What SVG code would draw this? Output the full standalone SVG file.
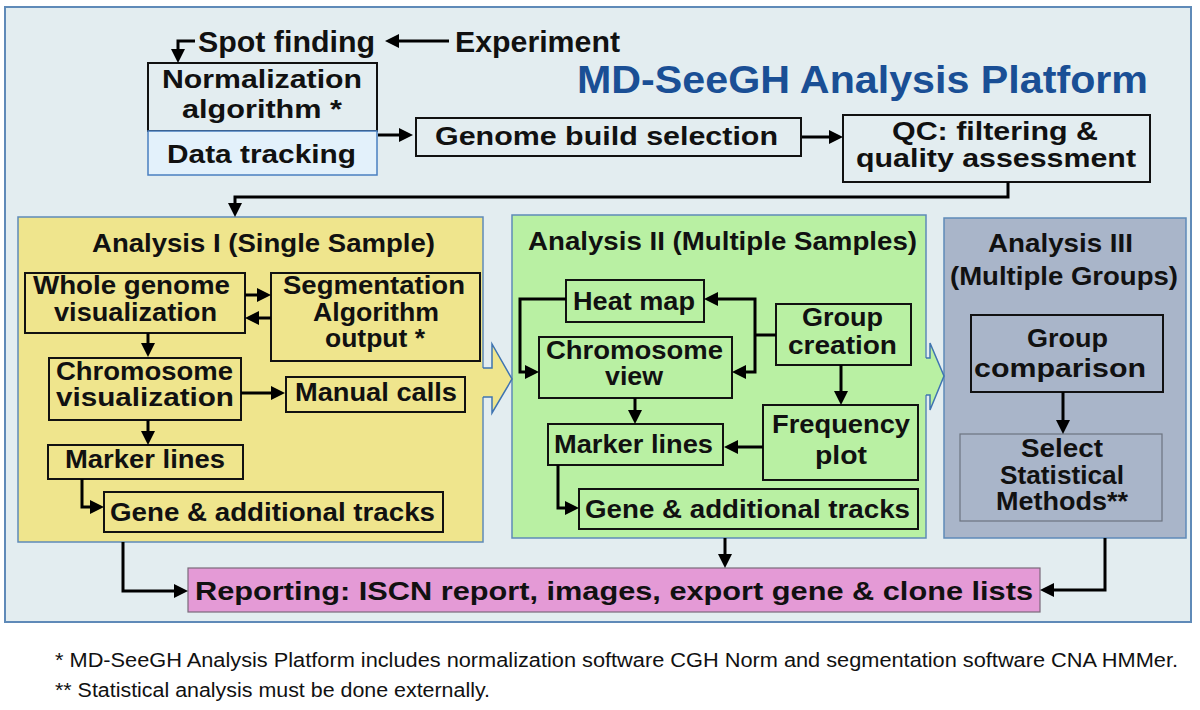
<svg xmlns="http://www.w3.org/2000/svg" width="1200" height="710" viewBox="0 0 1200 710">
<defs>
<marker id="ah" viewBox="0 0 14 14" refX="10" refY="7" markerWidth="14" markerHeight="14" markerUnits="userSpaceOnUse" orient="auto">
<path d="M0,0 L14,7 L0,14 z" fill="#000"/>
</marker>
<style>
text{font-family:"Liberation Sans",Arial,sans-serif;font-weight:bold;fill:#111;text-anchor:middle}
.t{font-size:25px}
.tt{font-size:26px}
.t30{font-size:29px}
.title{font-size:39px;fill:#1a4f95}
.foot{font-weight:normal;font-size:20px;text-anchor:start}
.node{fill:none;stroke:#111;stroke-width:2}
.panel{stroke:#5f8ab8;stroke-width:1.5}
.conn{fill:none;stroke:#000;stroke-width:3;marker-end:url(#ah)}
.seg{fill:none;stroke:#000;stroke-width:3}
.barrow{fill:none;stroke:#3f74b0;stroke-width:1.5}
</style>
</defs>
<rect width="1200" height="710" fill="#fff"/>
<rect id="platform" x="5" y="7" width="1186" height="615" fill="#e3edf0" stroke="#5f8ab8" stroke-width="2"/>

<g id="panel-analysis1">
<rect class="panel" x="18" y="217" width="465" height="325" fill="#efe58d"/>
<text class="t" x="263.5" y="252" textLength="343" lengthAdjust="spacingAndGlyphs">Analysis I (Single Sample)</text>
</g>
<g id="panel-analysis2">
<rect class="panel" x="512" y="215" width="414" height="323" fill="#b9f0a3"/>
<text class="t" x="722.5" y="250" textLength="389" lengthAdjust="spacingAndGlyphs">Analysis II (Multiple Samples)</text>
</g>
<g id="panel-analysis3">
<rect class="panel" x="944" y="218" width="242" height="320" fill="#a9b5c9"/>
<text class="t" x="1060.5" y="252" textLength="145" lengthAdjust="spacingAndGlyphs">Analysis III</text>
<text class="t" x="1064" y="285" textLength="228" lengthAdjust="spacingAndGlyphs">(Multiple Groups)</text>
</g>

<g id="block-arrow-1-2">
<polygon points="481,368 492,368 492,344 512,379 492,413 492,397 481,397" fill="#efe58d"/>
<polyline class="barrow" points="483,368 492,368 492,344 512,379 492,413 492,397 483,397"/>
</g>
<g id="block-arrow-2-3">
<polygon points="925,358 930,358 930,343 944,376 930,410 930,395 925,395" fill="#b9f0a3"/>
<polyline class="barrow" points="926,358 930,358 930,343 944,376 930,410 930,395 926,395"/>
</g>

<text class="title" x="862.5" y="93" textLength="571" lengthAdjust="spacingAndGlyphs">MD-SeeGH Analysis Platform</text>

<g id="spot-finding"><text class="t30" x="286.5" y="52" textLength="177" lengthAdjust="spacingAndGlyphs">Spot finding</text></g>
<g id="experiment"><text class="t30" x="537.5" y="52" textLength="165" lengthAdjust="spacingAndGlyphs">Experiment</text></g>
<g id="normalization">
<rect class="node" x="148" y="63" width="229" height="68"/>
<text class="tt" x="262" y="88" textLength="200" lengthAdjust="spacingAndGlyphs">Normalization</text>
<text class="tt" x="262" y="118" textLength="160" lengthAdjust="spacingAndGlyphs">algorithm *</text>
</g>
<g id="data-tracking">
<rect x="148" y="131" width="229" height="44" fill="#e3f1fb" stroke="#4a7fc0" stroke-width="1.5"/>
<text class="tt" x="261.5" y="163" textLength="189" lengthAdjust="spacingAndGlyphs">Data tracking</text>
</g>
<g id="genome-build">
<rect class="node" x="416" y="118" width="385" height="38"/>
<text class="tt" x="606.5" y="145" textLength="343" lengthAdjust="spacingAndGlyphs">Genome build selection</text>
</g>
<g id="qc">
<rect class="node" x="843" y="115" width="307" height="67"/>
<text class="tt" x="995" y="140" textLength="206" lengthAdjust="spacingAndGlyphs">QC: filtering &amp;</text>
<text class="tt" x="996" y="167" textLength="280" lengthAdjust="spacingAndGlyphs">quality assessment</text>
</g>

<g id="whole-genome">
<rect class="node" x="25" y="273" width="220" height="60"/>
<text class="t" x="131.5" y="294" textLength="197" lengthAdjust="spacingAndGlyphs">Whole genome</text>
<text class="t" x="135.5" y="321" textLength="163" lengthAdjust="spacingAndGlyphs">visualization</text>
</g>
<g id="segmentation">
<rect class="node" x="271" y="273" width="209" height="88"/>
<text class="t" x="374" y="294" textLength="182" lengthAdjust="spacingAndGlyphs">Segmentation</text>
<text class="t" x="376" y="321" textLength="126" lengthAdjust="spacingAndGlyphs">Algorithm</text>
<text class="t" x="375" y="347" textLength="100" lengthAdjust="spacingAndGlyphs">output *</text>
</g>
<g id="chromosome-vis">
<rect class="node" x="49" y="358" width="192" height="62"/>
<text class="t" x="144.5" y="380" textLength="177" lengthAdjust="spacingAndGlyphs">Chromosome</text>
<text class="t" x="145" y="406" textLength="178" lengthAdjust="spacingAndGlyphs">visualization</text>
</g>
<g id="manual-calls">
<rect class="node" x="286" y="377" width="179" height="35"/>
<text class="t" x="376" y="401" textLength="162" lengthAdjust="spacingAndGlyphs">Manual calls</text>
</g>
<g id="marker-lines-1">
<rect class="node" x="48" y="445" width="195" height="34"/>
<text class="t" x="145" y="468" textLength="160" lengthAdjust="spacingAndGlyphs">Marker lines</text>
</g>
<g id="gene-tracks-1">
<rect class="node" x="104" y="492" width="339" height="40"/>
<text class="t" x="272.5" y="521" textLength="325" lengthAdjust="spacingAndGlyphs">Gene &amp; additional tracks</text>
</g>

<g id="heat-map">
<rect class="node" x="566" y="280" width="138" height="42"/>
<text class="t" x="634" y="310" textLength="122" lengthAdjust="spacingAndGlyphs">Heat map</text>
</g>
<g id="chromosome-view">
<rect class="node" x="539" y="337" width="193" height="61"/>
<text class="t" x="634.5" y="359" textLength="177" lengthAdjust="spacingAndGlyphs">Chromosome</text>
<text class="t" x="634" y="385" textLength="58" lengthAdjust="spacingAndGlyphs">view</text>
</g>
<g id="group-creation">
<rect class="node" x="776" y="304" width="135" height="61"/>
<text class="t" x="842.5" y="326" textLength="81" lengthAdjust="spacingAndGlyphs">Group</text>
<text class="t" x="842.5" y="354" textLength="109" lengthAdjust="spacingAndGlyphs">creation</text>
</g>
<g id="frequency-plot">
<rect class="node" x="763" y="405" width="155" height="75"/>
<text class="t" x="841" y="433" textLength="138" lengthAdjust="spacingAndGlyphs">Frequency</text>
<text class="t" x="841" y="464" textLength="52" lengthAdjust="spacingAndGlyphs">plot</text>
</g>
<g id="marker-lines-2">
<rect class="node" x="548" y="424" width="175" height="41"/>
<text class="t" x="633.5" y="453" textLength="159" lengthAdjust="spacingAndGlyphs">Marker lines</text>
</g>
<g id="gene-tracks-2">
<rect class="node" x="579" y="489" width="339" height="40"/>
<text class="t" x="747.5" y="518" textLength="325" lengthAdjust="spacingAndGlyphs">Gene &amp; additional tracks</text>
</g>

<g id="group-comparison">
<rect class="node" x="971" y="315" width="192" height="77"/>
<text class="t" x="1067.5" y="347" textLength="81" lengthAdjust="spacingAndGlyphs">Group</text>
<text class="t" x="1060" y="377" textLength="172" lengthAdjust="spacingAndGlyphs">comparison</text>
</g>
<g id="select-methods">
<rect x="960" y="434" width="202" height="87" fill="none" stroke="#6d7480" stroke-width="1.2"/>
<text class="t" x="1062" y="457" textLength="82" lengthAdjust="spacingAndGlyphs">Select</text>
<text class="t" x="1062" y="484" textLength="124" lengthAdjust="spacingAndGlyphs">Statistical</text>
<text class="t" x="1062" y="510" textLength="132" lengthAdjust="spacingAndGlyphs">Methods**</text>
</g>

<g id="reporting">
<rect x="188" y="568" width="852" height="44" fill="#e49ad6" stroke="#7a6a7a" stroke-width="1.2"/>
<text class="tt" x="614" y="600" textLength="838" lengthAdjust="spacingAndGlyphs">Reporting: ISCN report, images, export gene &amp; clone lists</text>
</g>

<g id="connectors">
<path class="conn" d="M449,41 H389"/>
<path class="conn" d="M195,41 H178 V59"/>
<path class="conn" d="M378,135 H409"/>
<path class="conn" d="M802,137 H839"/>
<path class="conn" d="M1008,182 V197 H235 V213"/>
<path class="conn" d="M245,295 H267"/>
<path class="conn" d="M271,318 H249"/>
<path class="conn" d="M148,333 V353"/>
<path class="conn" d="M241,393 H281"/>
<path class="conn" d="M148,420 V441"/>
<path class="conn" d="M82,479 V507 H100"/>
<path class="conn" d="M123,542 V591 H184"/>
<path class="conn" d="M566,299 H520 V372 H535"/>
<path class="seg" d="M776,335 H755"/>
<path class="conn" d="M755,335 V299 H708"/>
<path class="conn" d="M755,335 V372 H736"/>
<path class="conn" d="M841,365 V401"/>
<path class="conn" d="M635,398 V420"/>
<path class="conn" d="M763,447 H728"/>
<path class="conn" d="M558,465 V508 H575"/>
<path class="conn" d="M725,538 V564"/>
<path class="conn" d="M1063,392 V430"/>
<path class="conn" d="M1105,538 V590 H1044"/>
</g>

<text class="foot" x="55" y="667" textLength="1123" lengthAdjust="spacingAndGlyphs">*  MD-SeeGH Analysis Platform includes normalization software CGH Norm and segmentation software CNA HMMer.</text>
<text class="foot" x="55" y="697" textLength="435" lengthAdjust="spacingAndGlyphs">** Statistical analysis must be done externally.</text>
</svg>
